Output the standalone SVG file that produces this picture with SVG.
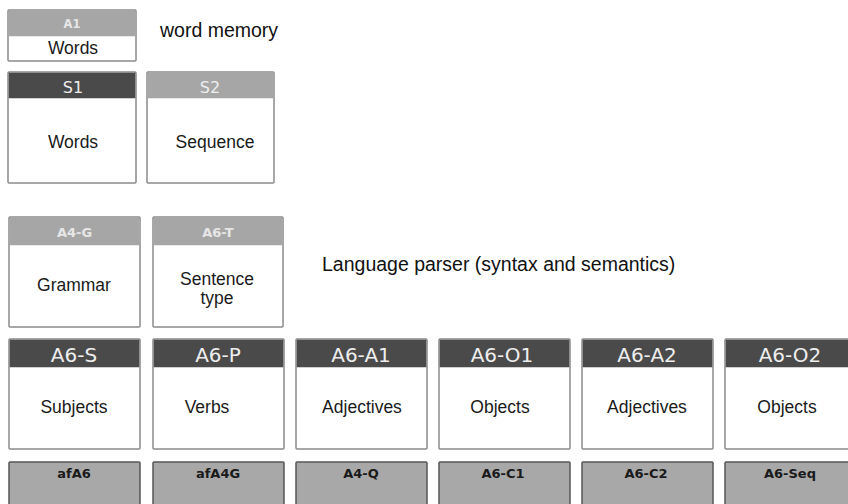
<svg xmlns="http://www.w3.org/2000/svg" width="848" height="504" viewBox="0 0 848 504">
<style>
.box{fill:#ffffff;stroke:#8a8a8a;stroke-width:1.5}
.hd{fill:#4a4a4a}
.hl{fill:#a6a6a6}
.low{fill:#a8a8a8;stroke:#555555;stroke-width:1.5}
.body{font-family:"Liberation Sans",Arial,sans-serif;font-size:17.5px;fill:#1a1a1a;text-anchor:middle}
.big{font-family:"DejaVu Sans",sans-serif;font-size:20px;fill:#eeeeee;text-anchor:middle}
.mid{font-family:"DejaVu Sans",sans-serif;font-size:16px;fill:#eeeeee;text-anchor:middle}
.sm{font-family:"DejaVu Sans",sans-serif;font-size:11.5px;font-weight:bold;fill:#e6e6e6;text-anchor:middle}
.smg{font-family:"DejaVu Sans",sans-serif;font-size:13px;font-weight:bold;fill:#e6e6e6;text-anchor:middle}
.lowt{font-family:"DejaVu Sans",sans-serif;font-size:13px;font-weight:bold;fill:#1a1a1a;text-anchor:middle}
.lbl{font-family:"Liberation Sans",Arial,sans-serif;font-size:19.5px;fill:#111111}
</style>
<rect width="848" height="504" fill="#ffffff"/>
<g id="A1">
<rect class="box" x="8" y="10" width="128" height="51" rx="1"/>
<rect class="hl" x="8.75" y="10.75" width="126.5" height="25.5"/>
<text class="sm" x="72" y="28">A1</text>
<text class="body" x="73" y="54">Words</text>
</g>
<text class="lbl" x="160" y="37">word memory</text>
<g id="S1">
<rect class="box" x="8" y="72" width="128" height="111" rx="1"/>
<rect class="hd" x="8.75" y="72.75" width="126.5" height="25.5"/>
<text class="mid" x="73" y="93">S1</text>
<text class="body" x="73" y="148">Words</text>
</g>
<g id="S2">
<rect class="box" x="147" y="72" width="127" height="111" rx="1"/>
<rect class="hl" x="147.75" y="72.75" width="125.5" height="25.5"/>
<text class="mid" x="210" y="93">S2</text>
<text class="body" x="215" y="148">Sequence</text>
</g>
<g id="A4-G">
<rect class="box" x="9" y="217" width="131" height="110" rx="1"/>
<rect class="hl" x="9.75" y="217.75" width="129.5" height="27.5"/>
<text class="smg" x="74.5" y="237">A4-G</text>
<text class="body" x="74" y="291">Grammar</text>
</g>
<g id="A6-T">
<rect class="box" x="153" y="217" width="130" height="110" rx="1"/>
<rect class="hl" x="153.75" y="217.75" width="128.5" height="27.5"/>
<text class="smg" x="218" y="237">A6-T</text>
<text class="body" x="217" y="285">Sentence</text>
<text class="body" x="217" y="304">type</text>
</g>
<text class="lbl" x="322" y="271">Language parser (syntax and semantics)</text>
<g id="A6-S">
<rect class="box" x="9" y="339" width="131" height="110" rx="1"/>
<rect class="hd" x="9.75" y="339.75" width="129.5" height="27.5"/>
<text class="big" x="74" y="362">A6-S</text>
<text class="body" x="74" y="413">Subjects</text>
</g>
<g id="A6-P">
<rect class="box" x="153" y="339" width="131" height="110" rx="1"/>
<rect class="hd" x="153.75" y="339.75" width="129.5" height="27.5"/>
<text class="big" x="218" y="362">A6-P</text>
<text class="body" x="207" y="413">Verbs</text>
</g>
<g id="A6-A1">
<rect class="box" x="296" y="339" width="131" height="110" rx="1"/>
<rect class="hd" x="296.75" y="339.75" width="129.5" height="27.5"/>
<text class="big" x="361" y="362">A6-A1</text>
<text class="body" x="362" y="413">Adjectives</text>
</g>
<g id="A6-O1">
<rect class="box" x="439" y="339" width="131" height="110" rx="1"/>
<rect class="hd" x="439.75" y="339.75" width="129.5" height="27.5"/>
<text class="big" x="502" y="362">A6-O1</text>
<text class="body" x="500" y="413">Objects</text>
</g>
<g id="A6-A2">
<rect class="box" x="582" y="339" width="131" height="110" rx="1"/>
<rect class="hd" x="582.75" y="339.75" width="129.5" height="27.5"/>
<text class="big" x="647" y="362">A6-A2</text>
<text class="body" x="647" y="413">Adjectives</text>
</g>
<g id="A6-O2">
<rect class="box" x="725" y="339" width="131" height="110" rx="1"/>
<rect class="hd" x="725.75" y="339.75" width="129.5" height="27.5"/>
<text class="big" x="790" y="362">A6-O2</text>
<text class="body" x="787" y="413">Objects</text>
</g>
<g id="afA6"><rect class="low" x="9" y="462" width="131" height="60" rx="1"/><text class="lowt" x="74" y="478">afA6</text></g>
<g id="afA4G"><rect class="low" x="153" y="462" width="131" height="60" rx="1"/><text class="lowt" x="218" y="478">afA4G</text></g>
<g id="A4-Q"><rect class="low" x="296" y="462" width="131" height="60" rx="1"/><text class="lowt" x="361" y="478">A4-Q</text></g>
<g id="A6-C1"><rect class="low" x="439" y="462" width="131" height="60" rx="1"/><text class="lowt" x="503" y="478">A6-C1</text></g>
<g id="A6-C2"><rect class="low" x="582" y="462" width="131" height="60" rx="1"/><text class="lowt" x="646" y="478">A6-C2</text></g>
<g id="A6-Seq"><rect class="low" x="725" y="462" width="131" height="60" rx="1"/><text class="lowt" x="790" y="478">A6-Seq</text></g>
<g id="connectors"></g>
</svg>
